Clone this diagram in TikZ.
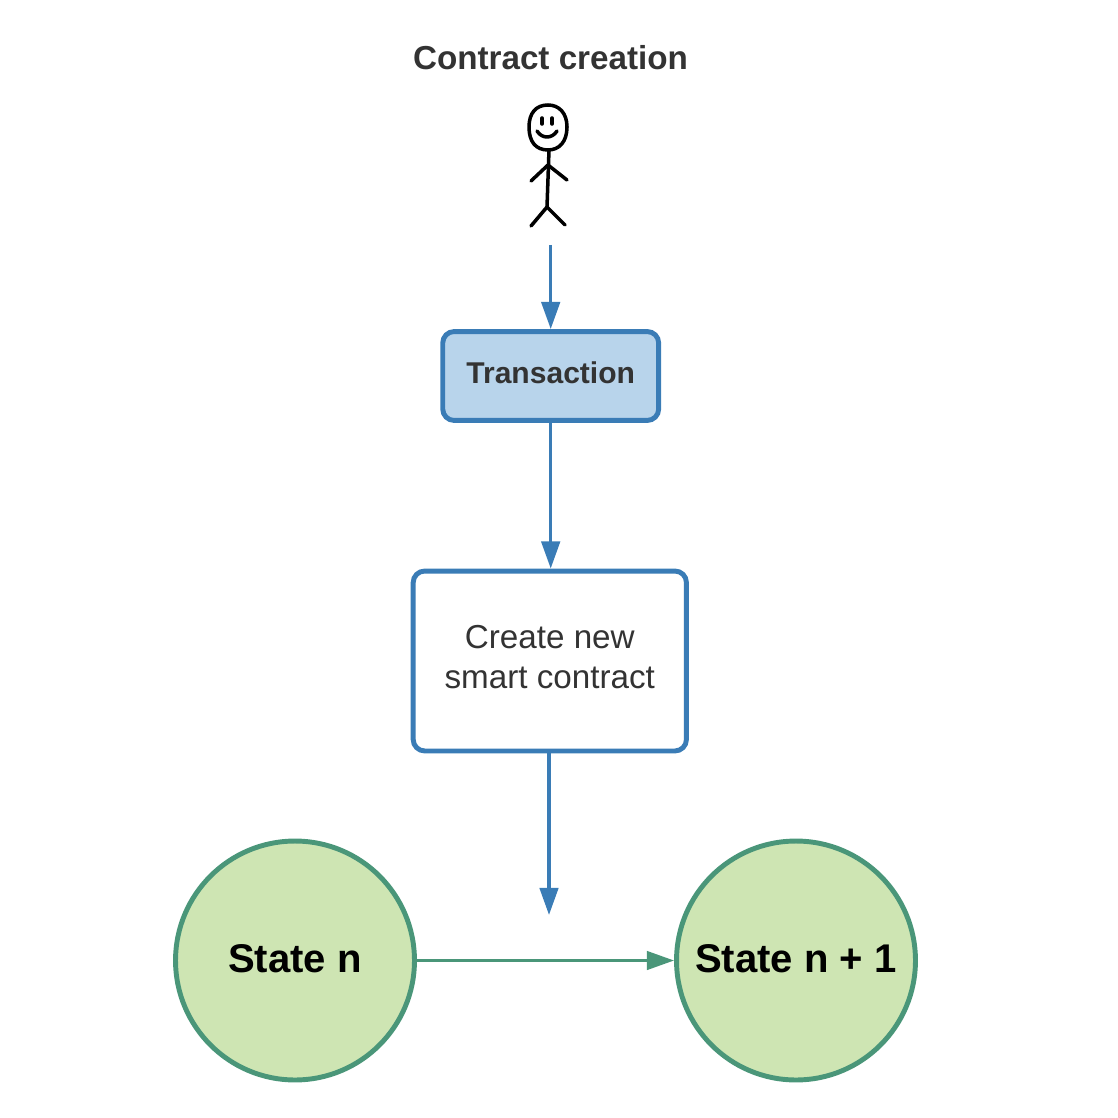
\documentclass[tikz,border=0pt]{standalone}
\usepackage{fontspec}
\setmainfont{Liberation Sans}
\usetikzlibrary{arrows.meta, positioning}
\definecolor{flowblue}{HTML}{3A7CB6}
\definecolor{boxblue}{HTML}{B8D4EB}
\definecolor{stategreen}{HTML}{4A9679}
\definecolor{statefill}{HTML}{CEE5B3}
\definecolor{textgrey}{HTML}{333333}
\tikzset{
  flowbox/.style={draw=flowblue, line width=2.8pt, rectangle, rounded corners=6.5pt, align=center, text=textgrey, inner sep=0pt},
  statenode/.style={draw=stategreen, fill=statefill, line width=2.8pt, circle, minimum size=136pt, inner sep=0pt, text depth=2.3pt, font=\fontsize{22.8}{26}\selectfont\bfseries},
  flowarrow/.style={draw=flowblue, line width=2pt, -{Triangle[length=15.5pt, width=10.5pt]}},
  statearrow/.style={draw=stategreen, line width=1.8pt, -{Triangle[length=15.5pt, width=10.5pt]}},
  stick/.style={black, line width=2pt, line cap=round, line join=round}
}
\begin{document}
\begin{tikzpicture}[x=0.02cm, y=-0.02cm]
  \useasboundingbox (0,0) rectangle (1118,1118);
  \node[font=\fontsize{18.9}{23}\selectfont\bfseries, text=textgrey] (title) at (550.5,58) {Contract creation};
  % stick figure
  \draw[stick] (548,105) .. controls (559,105) and (567,113) .. (567,127)
    .. controls (567,142) and (559,150) .. (548,150)
    .. controls (536,150) and (529,142) .. (529,127)
    .. controls (529,113) and (536,105) .. (548,105);
  \draw[stick] (542,118) -- (542,124);
  \draw[stick] (552,118) -- (552,124);
  \draw[stick] (537,131) .. controls (542,139) and (552,139) .. (557,131);
  \draw[stick] (549,150) -- (547,207);
  \draw[stick] (531,181) -- (548,165) -- (567,180);
  \draw[stick] (531,226) -- (547,207) -- (565,225);
  \coordinate (start) at (550.7,245);
  \node[flowbox, fill=boxblue, minimum width=122.9pt, minimum height=50.6pt, text depth=3.8pt, font=\fontsize{17.1}{21}\selectfont\bfseries] (tx) at (550.7,376) {Transaction};
  \node[flowbox, fill=white, minimum width=155.5pt, minimum height=102.4pt, text depth=4.6pt, font=\fontsize{18.9}{22.8}\selectfont] (create) at (549.8,661) {Create new\\smart contract};
  \node[statenode] (staten) at (295,960.5) {State n};
  \node[statenode] (statem) at (796,960.5) {State n + 1};
  \coordinate (createout) at (549,751);
  \coordinate (resultin) at (549,915);
  \draw[flowarrow] (start) -- (tx.north);
  \draw[flowarrow] (tx.south) -- (tx.south |- create.north);
  \draw[flowarrow] (createout) -- (resultin);
  \draw[statearrow] (staten) -- (statem);
\end{tikzpicture}
\end{document}
